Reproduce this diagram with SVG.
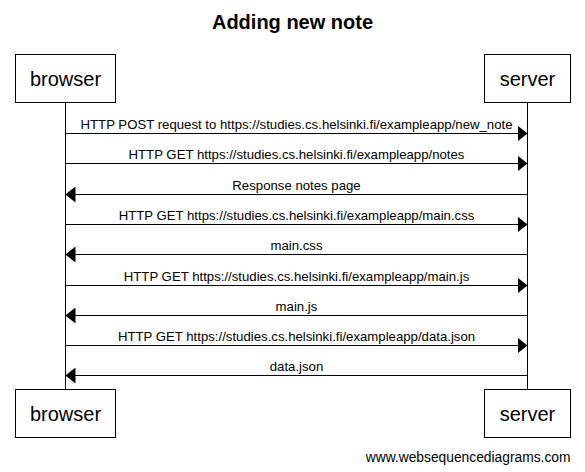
<svg xmlns="http://www.w3.org/2000/svg" width="585" height="472" viewBox="0 0 585 472">
<style>
text{font-family:"Liberation Sans",Arial,sans-serif;fill:#000}
.title{font-size:20px;font-weight:bold;text-anchor:middle}
.part rect{fill:#fff;stroke:#000;stroke-width:1}
.part text{font-size:20px;text-anchor:middle}
.life{stroke:#000;stroke-width:1;fill:none}
.msg line{stroke:#000;stroke-width:1}
.msg text{font-size:13.2px;text-anchor:middle}
.foot{font-size:13.8px;text-anchor:end}
</style>
<defs>
<marker id="ah" viewBox="0 0 10 16" refX="10" refY="8" markerWidth="10" markerHeight="16" markerUnits="userSpaceOnUse" orient="auto">
<path d="M0,0 L10,8 L0,16 Z" fill="#000"/>
</marker>
</defs>
<rect width="585" height="472" fill="#fff"/>
<text class="title" x="292.5" y="29">Adding new note</text>
<g id="lifelines">
<line class="life" x1="65.5" y1="102.5" x2="65.5" y2="389.5"/>
<line class="life" x1="527.5" y1="102.5" x2="527.5" y2="389.5"/>
</g>
<g id="browser-top" class="part"><rect x="15.5" y="54.5" width="100" height="48"/><text x="65.5" y="85.5">browser</text></g>
<g id="server-top" class="part"><rect x="484.5" y="54.5" width="86" height="48"/><text x="527.5" y="85.5">server</text></g>
<g id="browser-bottom" class="part"><rect x="15.5" y="389.5" width="100" height="48"/><text x="65.5" y="420.5">browser</text></g>
<g id="server-bottom" class="part"><rect x="484.5" y="389.5" width="86" height="48"/><text x="527.5" y="420.5">server</text></g>
<g id="connectors" class="msg">
<line x1="65.5" y1="133.5" x2="527.5" y2="133.5" marker-end="url(#ah)"/>
<text x="296.5" y="129">HTTP POST request to https://studies.cs.helsinki.fi/exampleapp/new_note</text>
<line x1="65.5" y1="163.5" x2="527.5" y2="163.5" marker-end="url(#ah)"/>
<text x="296.5" y="159">HTTP GET https://studies.cs.helsinki.fi/exampleapp/notes</text>
<line x1="527.5" y1="194.5" x2="65.5" y2="194.5" marker-end="url(#ah)"/>
<text x="296.5" y="190">Response notes page</text>
<line x1="65.5" y1="224.5" x2="527.5" y2="224.5" marker-end="url(#ah)"/>
<text x="296.5" y="220">HTTP GET https://studies.cs.helsinki.fi/exampleapp/main.css</text>
<line x1="527.5" y1="254.5" x2="65.5" y2="254.5" marker-end="url(#ah)"/>
<text x="296.5" y="250">main.css</text>
<line x1="65.5" y1="285.5" x2="527.5" y2="285.5" marker-end="url(#ah)"/>
<text x="296.5" y="281">HTTP GET https://studies.cs.helsinki.fi/exampleapp/main.js</text>
<line x1="527.5" y1="315.5" x2="65.5" y2="315.5" marker-end="url(#ah)"/>
<text x="296.5" y="311">main.js</text>
<line x1="65.5" y1="345.5" x2="527.5" y2="345.5" marker-end="url(#ah)"/>
<text x="296.5" y="341">HTTP GET https://studies.cs.helsinki.fi/exampleapp/data.json</text>
<line x1="527.5" y1="375.5" x2="65.5" y2="375.5" marker-end="url(#ah)"/>
<text x="296.5" y="371">data.json</text>
</g>
<text class="foot" x="570.5" y="462">www.websequencediagrams.com</text>
</svg>
